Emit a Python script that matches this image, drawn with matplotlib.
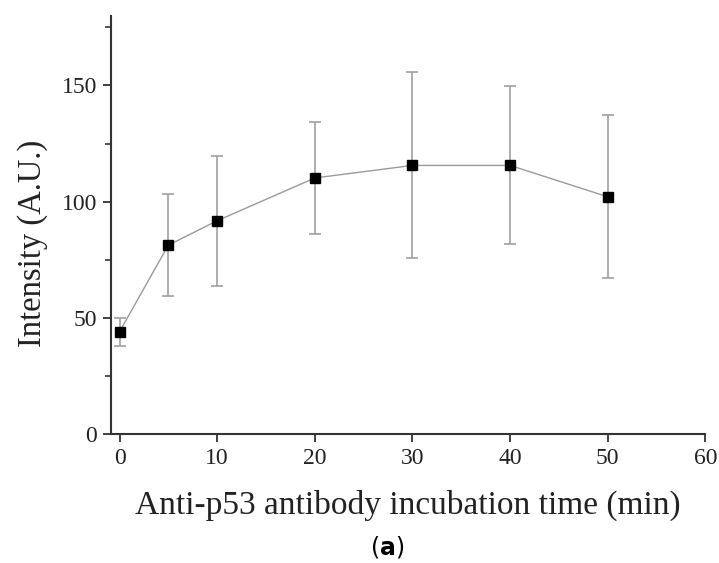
import matplotlib

matplotlib.use("Agg")
import matplotlib.pyplot as plt
from matplotlib.ticker import MultipleLocator

# data
times = [0, 5, 10, 20, 30, 40, 50]
intensity = [44, 81.3, 91.8, 110.2, 115.6, 115.6, 102.1]
err = [6, 22, 28, 24, 40, 34, 35]

plt.rcParams["font.family"] = ["Liberation Serif", "DejaVu Serif"]
plt.rcParams["mathtext.fontset"] = "dejavusans"

fig = plt.figure(figsize=(7.19, 5.63), dpi=100)
ax = fig.add_axes([0.154, 0.229, 0.827, 0.743])

ax.errorbar(times, intensity, yerr=err, color="#9a9a9a", lw=1.0,
            ecolor="#a0a0a0", elinewidth=1.2, capsize=4, capthick=1.2,
            marker="s", markersize=7, markerfacecolor="black",
            markeredgecolor="black", zorder=3)

ax.set_xlim(-0.9, 60)
ax.set_ylim(0, 180)
ax.xaxis.set_major_locator(MultipleLocator(10))
ax.yaxis.set_major_locator(MultipleLocator(50))
ax.yaxis.set_minor_locator(MultipleLocator(25))

for s in ("top", "right"):
    ax.spines[s].set_visible(False)
for s in ("left", "bottom"):
    ax.spines[s].set_linewidth(1.5)
    ax.spines[s].set_color("#333333")

ax.tick_params(which="major", direction="out", length=6, width=1.3,
               colors="#333333", labelsize=17, labelcolor="#222222", pad=4)
ax.tick_params(which="minor", direction="out", length=4, width=1.2,
               colors="#333333")

ax.set_xlabel("Anti-p53 antibody incubation time (min)", fontsize=24,
              color="#222222", labelpad=15)
ax.set_ylabel("Intensity (A.U.)", fontsize=23.5, color="#222222")
ax.yaxis.set_label_coords(-0.105, 0.455)

fig.text(0.539, 0.028, r"($\mathbf{a}$)", fontsize=17, ha="center",
         va="center", family="DejaVu Sans")

fig.savefig("out.png", dpi=100)
